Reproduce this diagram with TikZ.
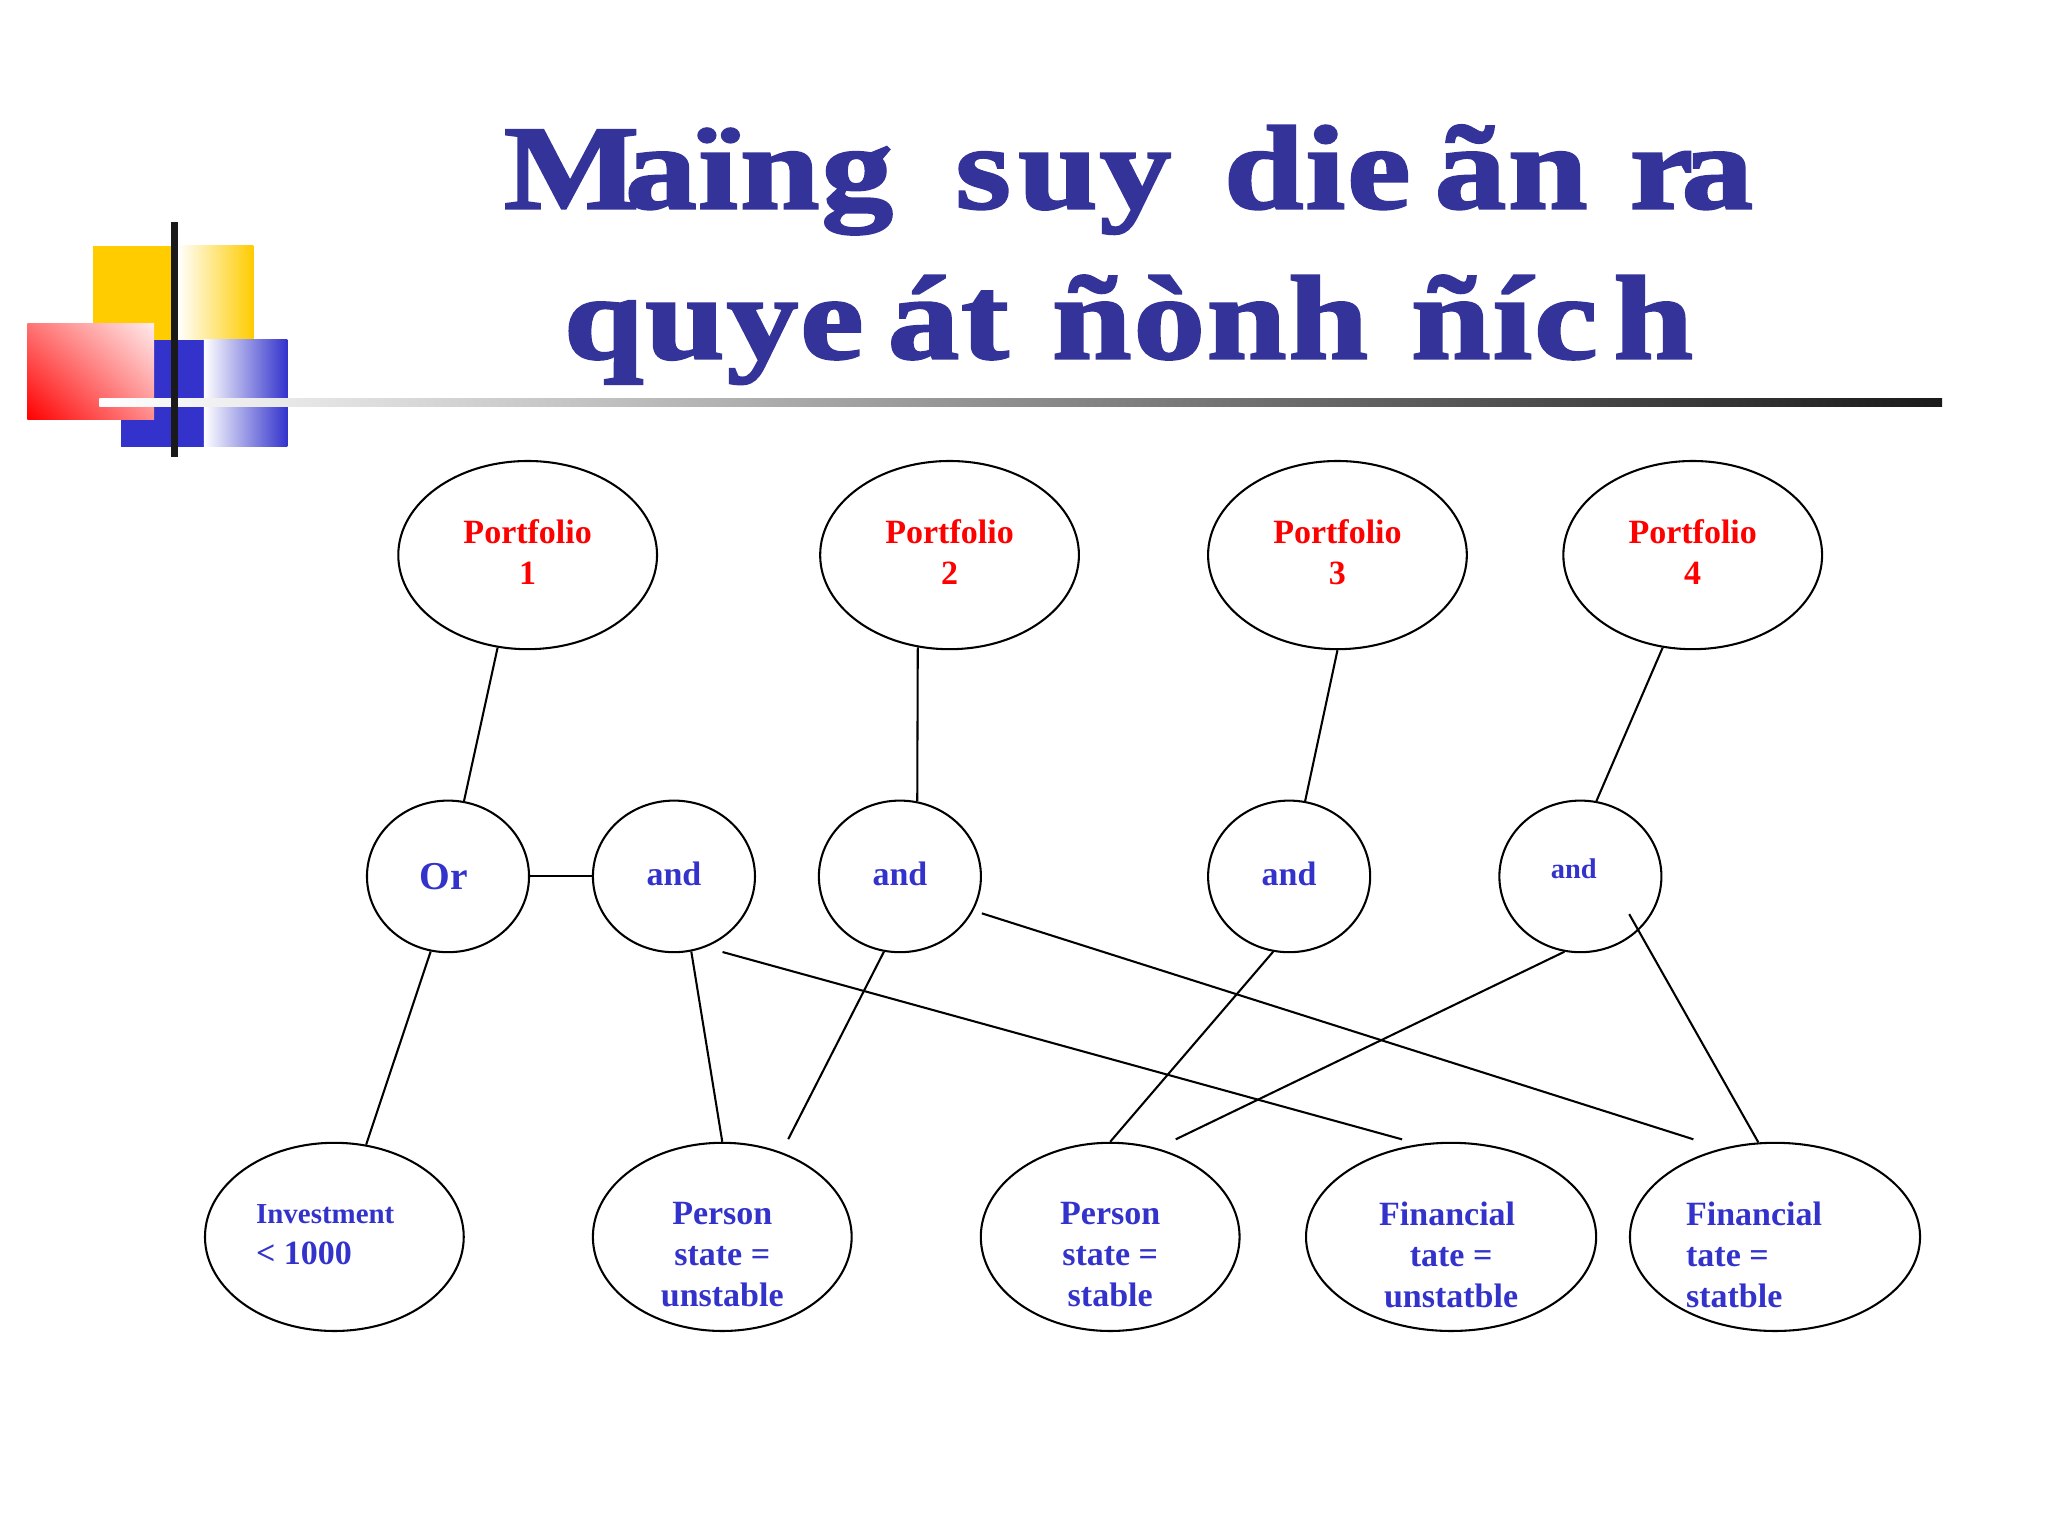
\documentclass[tikz,border=0pt]{standalone}
\usepackage{fontspec}
\usetikzlibrary{shapes.geometric,shadings}
\setmainfont{Liberation Serif}
\newfontfamily\titlefont[FakeStretch=1.2,FakeBold=2,LetterSpace=1.5,WordSpace=1.4]{Liberation Serif Bold}
\definecolor{titleblue}{HTML}{333399}
\definecolor{labelblue}{HTML}{3333CC}
\definecolor{logoyellow}{HTML}{FFCC00}
\definecolor{logoblack}{HTML}{1A1A1A}

\begin{document}
\begin{tikzpicture}[x=0.01cm,y=-0.01cm]
\useasboundingbox (0,0) rectangle (1568,1176);

% logo
\fill[logoyellow] (71,188) rectangle (132,260);
\shade[left color=white,right color=logoyellow] (136,188) rectangle (194,260);
\fill[labelblue] (93,260) rectangle (156,342);
\shade[left color=white,right color=labelblue] (156,260) rectangle (220,342);
\shade[lower left=red,upper left=red!55!white,lower right=red!45!white,upper right=red!8!white] (21,248) rectangle (118,321);
\shade[left color=white,middle color=gray!60,right color=logoblack] (76,305) rectangle (1487,311);
\fill[logoblack] (131,170) rectangle (136,350);

% title
\node (0) at (864,195) [align=center,text=titleblue,font=\titlefont\fontsize{26}{32.7}\selectfont] {M\kern-.12em aïng\kern.08em{} s\kern.06em uy die\kern.2em ãn\kern-.09em{} r\kern-.1em a\\quye\kern.2em át\kern-.08em{} ñònh\kern-.08em{} ñíc\kern.13em h};

\begin{scope}[
    every node/.style={ellipse,draw=black,line width=0.45pt,inner sep=0pt,
        minimum width=1.98cm,minimum height=1.44cm},
    every label/.append style={shape=rectangle,draw=none,align=center,text=labelblue,
        minimum width=0pt,minimum height=0pt,
        font=\bfseries\fontsize{7.4}{8.9}\selectfont}]
    % portfolios
    \node (1) at (404,425) [label={[text=red,yshift=.025cm]center:Portfolio\\1}] {};
    \node (2) at (727,425) [label={[text=red,yshift=.025cm]center:Portfolio\\2}] {};
    \node (3) at (1024,425) [label={[text=red,yshift=.025cm]center:Portfolio\\3}] {};
    \node (4) at (1296,425) [label={[text=red,yshift=.025cm]center:Portfolio\\4}] {};

    % middle row
    \node (5) at (343,671) [minimum width=1.24cm,minimum height=1.16cm,label={[xshift=-.03cm,font=\bfseries\fontsize{8.6}{9}\selectfont]center:Or}] {};
    \node (6) at (516,671) [minimum width=1.24cm,minimum height=1.16cm,label={[yshift=.02cm]center:and}] {};
    \node (7) at (689,671) [minimum width=1.24cm,minimum height=1.16cm,label={[yshift=.02cm]center:and}] {};
    \node (8) at (987,671) [minimum width=1.24cm,minimum height=1.16cm,label={[yshift=.02cm]center:and}] {};
    \node (9) at (1210,671) [minimum width=1.24cm,minimum height=1.16cm,label={[xshift=-.05cm,yshift=.06cm,font=\bfseries\fontsize{6.2}{8}\selectfont]center:and}] {};

    % bottom row
    \node (10) at (256,947) [label={[align=left,xshift=-.07cm,yshift=.02cm]center:{\fontsize{6.3}{8.9}\selectfont Investment}\\< 1000}] {};
    \node (11) at (553,947) [label={[yshift=-.135cm]center:Person\\state =\\unstable}] {};
    \node (12) at (850,947) [label={[yshift=-.135cm]center:Person\\state =\\stable}] {};
    \node (13) at (1111,947) [minimum width=2.22cm,label={[yshift=-.135cm]center:Financial\hspace*{.06cm}\\tate =\\unstatble}] {};
    \node (14) at (1359,947) [minimum width=2.22cm,label={[align=left,xshift=-.16cm,yshift=-.135cm]center:Financial\\tate =\\statble}] {};
\end{scope}

\begin{scope}[every edge/.style={draw=black,line width=0.45pt}]
    \path (1.-108) edge (5.78);
    \path (2.-109) edge (7.77);
    \path (3.-90) edge (8.78);
    \path (4.-108) edge (9.78);

    \path (5.east) edge (6.west);
    \path (5.-103) edge (10.71);
    \path (6.-77) edge (11.north);
    \path (6.-66) edge [shorten <=.135cm,shorten >=.135cm] (13.109);
    \path (7.-102) edge [shorten >=.112cm] (11.55);
    \path (7.-25) edge [shorten <=.068cm,shorten >=.228cm] (14.121);
    \path (8.-102) edge (12.north);
    \path (9.-102) edge [shorten >=.156cm] (12.62);
    \path (9.-43) edge [shorten <=-.145cm] (14.100);
\end{scope}
\end{tikzpicture}
\end{document}
